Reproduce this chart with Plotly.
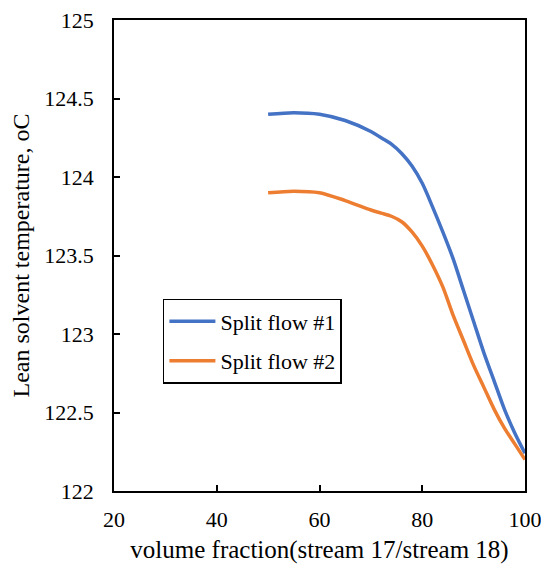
import plotly.graph_objects as go

# Volume fraction (stream 17 / stream 18), %
frac_1 = [50, 55, 60, 65, 70, 72, 74, 76, 78, 80, 82, 84, 86, 88, 90, 92, 94, 96, 98, 100]
temp_split_1 = [124.40, 124.41, 124.40, 124.36, 124.29, 124.25, 124.21, 124.15, 124.07, 123.96,
                123.81, 123.65, 123.48, 123.28, 123.08, 122.88, 122.70, 122.52, 122.37, 122.24]

frac_2 = [50, 55, 60, 65, 70, 72, 74, 76, 78, 80, 82, 84, 86, 88, 90, 92, 94, 96, 98, 100]
temp_split_2 = [123.90, 123.91, 123.90, 123.85, 123.79, 123.77, 123.75, 123.715, 123.65, 123.56,
                123.44, 123.30, 123.12, 122.96, 122.80, 122.66, 122.52, 122.40, 122.30, 122.20]

series_names = ["Split flow #1", "Split flow #2"]
colors = ["#4472C4", "#ED7D31"]

x_ticks = [20, 40, 60, 80, 100]
y_ticks = [122, 122.5, 123, 123.5, 124, 124.5, 125]

FONT = "Liberation Serif"

fig = go.Figure()
for i, (xs, ys) in enumerate([(frac_1, temp_split_1), (frac_2, temp_split_2)]):
    fig.add_trace(go.Scatter(
        x=xs, y=ys, mode="lines", name=series_names[i],
        legendgroup=f"g{i}",
        line=dict(color=colors[i], width=3.5, shape="spline", smoothing=0.8),
    ))

axis_common = dict(
    showline=True, linecolor="black", linewidth=1.5, mirror=True,
    ticks="inside", ticklen=6, tickwidth=1.5, tickcolor="black",
    showgrid=False, zeroline=False, automargin=False,
    ticklabeloverflow="allow",
    tickfont=dict(family=FONT, size=22, color="black"),
)

fig.update_xaxes(
    range=[20, 100], tickvals=x_ticks, ticktext=[str(v) for v in x_ticks],
    title=dict(text="volume fraction(stream 17/stream 18)",
               font=dict(family=FONT, size=25, color="black"), standoff=10),
    ticklabelstandoff=8,
    **axis_common,
)
fig.update_yaxes(
    range=[122, 125], tickvals=y_ticks, ticktext=[f"{v:g}" for v in y_ticks],
    title=dict(text="Lean solvent temperature, oC",
               font=dict(family=FONT, size=24, color="black"), standoff=8),
    ticklabelstandoff=14,
    **axis_common,
)

fig.update_layout(
    width=541, height=564,
    margin=dict(l=114, r=16, t=20, b=73),
    paper_bgcolor="white", plot_bgcolor="white",
    font=dict(family=FONT, color="black"),
    showlegend=True,
    legend=dict(
        x=0.119, y=0.408, xanchor="left", yanchor="top",
        bgcolor="white", bordercolor="black", borderwidth=1.5,
        font=dict(family=FONT, size=22, color="black"),
        tracegroupgap=8, itemwidth=46,
    ),
)

fig.write_html("out.html")
